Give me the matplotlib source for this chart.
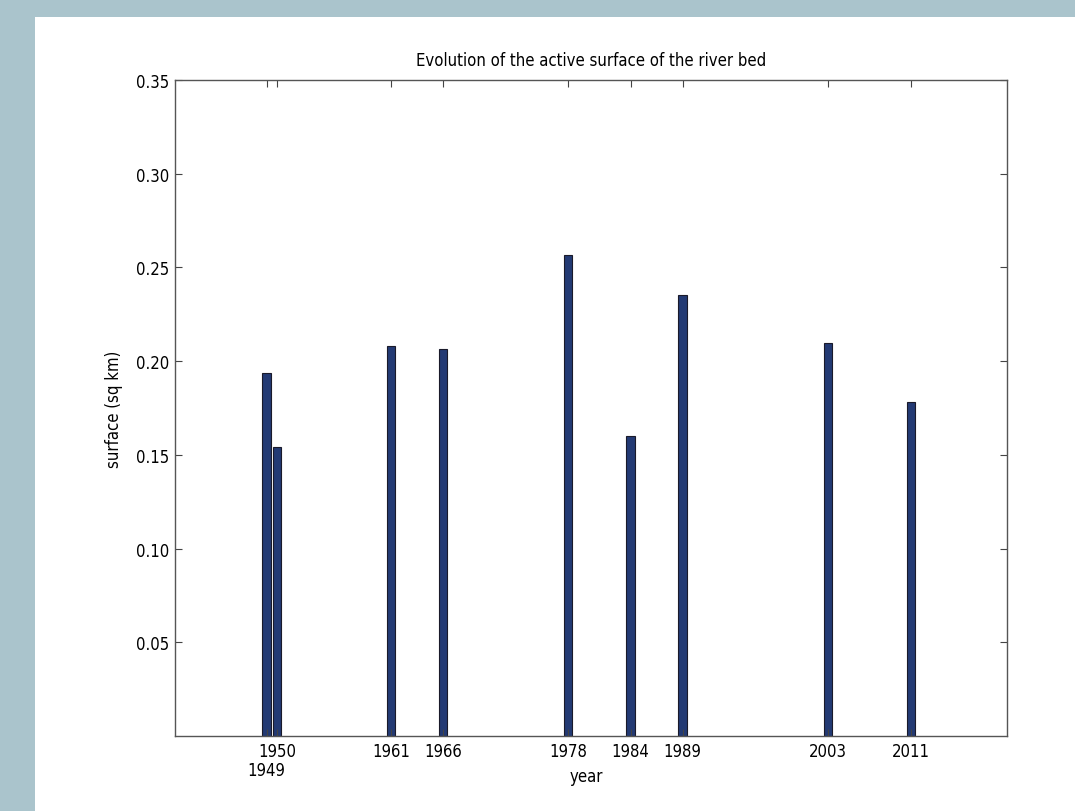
import numpy as np
import matplotlib
matplotlib.use("Agg")
import matplotlib.pyplot as plt
from matplotlib.patches import Rectangle

# donnees
years = [1949, 1950, 1961, 1966, 1978, 1984, 1989, 2003, 2011]
surface = [0.1937, 0.1542, 0.208, 0.2065, 0.2567, 0.160, 0.2353, 0.2097, 0.178]
year_labels = ["1949", "1950", "1961", "1966", "1978", "1984", "1989", "2003", "2011"]
yticks = [0.05, 0.10, 0.15, 0.20, 0.25, 0.30, 0.35]

plt.rcParams['font.family'] = ['DejaVu Sans']
plt.rcParams['font.stretch'] = 'condensed'

fig = plt.figure(figsize=(10.75, 8.12), dpi=100, facecolor="#aac4cc")
# panneau blanc
fig.patches.append(Rectangle((35 / 1075, 0), 1, 1 - 18 / 812, transform=fig.transFigure,
                             facecolor="white", edgecolor="none", zorder=-10))

ax = fig.add_axes([175 / 1075, 1 - 737 / 812, (1007 - 175) / 1075, (737 - 81) / 812])
ax.bar(years, surface, width=0.8, color="#233a74", edgecolor="#1a1a2a", linewidth=0.8)

ax.set_xlim(1940.2, 2020.2)
ax.set_ylim(0, 0.35)
ax.set_xticks(years)
ax.set_xticklabels(year_labels)
ax.set_yticks(yticks)
ax.set_yticklabels(["%.2f" % v for v in yticks])

ax.tick_params(direction="in", length=5, width=0.8, color="#444444", labelsize=12,
               top=True, right=True, pad=4)
# 1949 decale vers le bas pour ne pas chevaucher 1950
ax.xaxis.get_major_ticks()[0].set_pad(18)
for s in ax.spines.values():
    s.set_color("#555555")
    s.set_linewidth(1)

ax.set_title("Evolution of the active surface of the river bed", fontsize=12, pad=11)
ax.set_xlabel("year", fontsize=12)
ax.xaxis.set_label_coords(0.494, -0.047)
ax.set_ylabel("surface (sq km)", fontsize=12)
ax.yaxis.set_label_coords(-0.062, 0.5)

fig.savefig("out.png", dpi=100, facecolor=fig.get_facecolor())
